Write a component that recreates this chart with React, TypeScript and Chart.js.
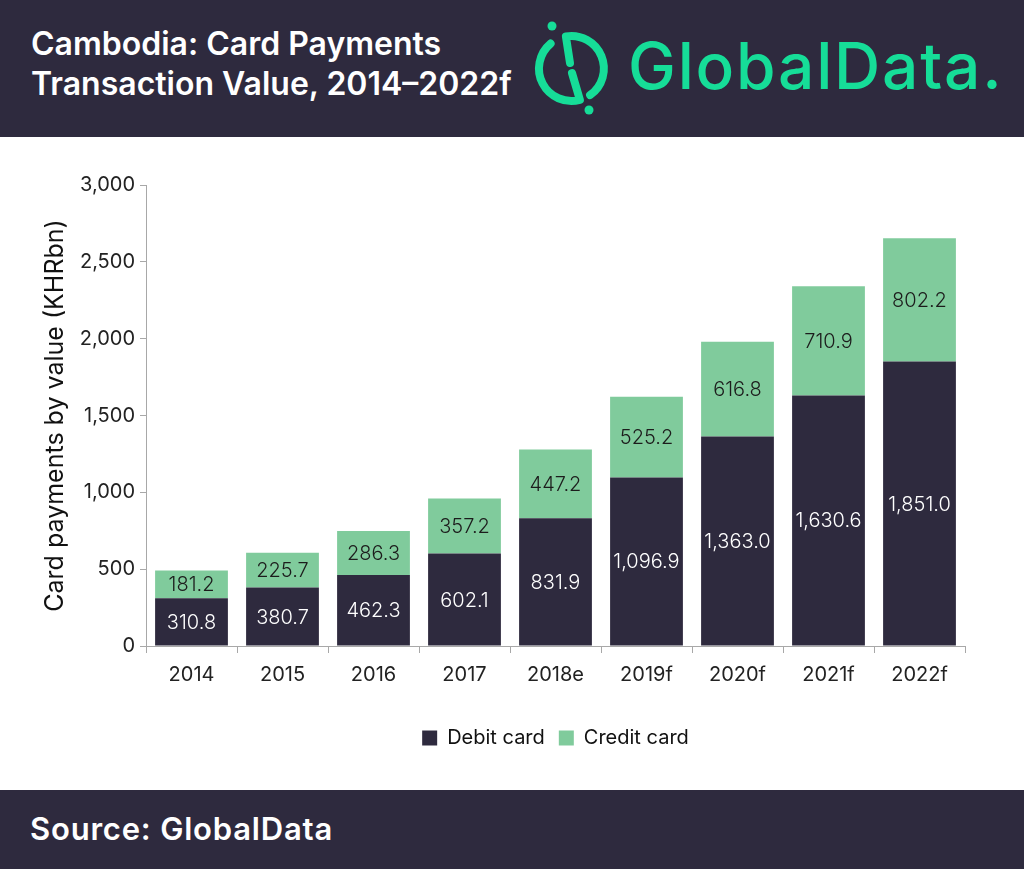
import { useEffect, useRef } from 'react'
import { Chart, registerables } from 'chart.js'

Chart.register(...registerables)

const years = ['2014', '2015', '2016', '2017', '2018e', '2019f', '2020f', '2021f', '2022f']
const debitCard = [310.8, 380.7, 462.3, 602.1, 831.9, 1096.9, 1363.0, 1630.6, 1851.0]
const creditCard = [181.2, 225.7, 286.3, 357.2, 447.2, 525.2, 616.8, 710.9, 802.2]

const DARK = '#2e2a3e'
const GREEN = '#80cb9c'
const LOGO = '#16dd98'
const AXIS = '#a8a8a8'
const FONT = 'Inter, "Noto Sans", sans-serif'

const fmt = (v: number) =>
  v.toLocaleString('en-US', { minimumFractionDigits: 1, maximumFractionDigits: 1 })

// value labels in the middle of each stacked segment
const barLabels = {
  id: 'barLabels',
  afterDatasetsDraw(chart: any) {
    const { ctx } = chart
    ctx.save()
    ctx.font = `300 20px ${FONT}`
    ctx.textAlign = 'center'
    ctx.textBaseline = 'middle'
    chart.data.datasets.forEach((ds: any, di: number) => {
      const meta = chart.getDatasetMeta(di)
      ctx.fillStyle = di === 0 ? '#ffffff' : '#1c1c1c'
      meta.data.forEach((bar: any, i: number) => {
        const { x, y, base } = bar.getProps(['x', 'y', 'base'], true)
        ctx.fillText(fmt(ds.data[i]), x, (y + base) / 2 + 1)
      })
    })
    ctx.restore()
  },
}

// keep the legend centred under the plot area rather than the canvas
const legendCentre = {
  id: 'legendCentre',
  afterLayout(chart: any) {
    const lg = chart.legend
    if (!lg) return
    const shift = (chart.chartArea.left + chart.chartArea.right) / 2 - (lg.left + lg.right) / 2
    lg.left += shift
    lg.right += shift
  },
}

function CardChart() {
  const canvasRef = useRef<HTMLCanvasElement>(null)

  useEffect(() => {
    const chart = new Chart(canvasRef.current as HTMLCanvasElement, {
      type: 'bar',
      data: {
        labels: years,
        datasets: [
          {
            label: 'Debit card',
            data: debitCard,
            backgroundColor: DARK,
            barPercentage: 0.8,
            categoryPercentage: 1,
          },
          {
            label: 'Credit card',
            data: creditCard,
            backgroundColor: GREEN,
            barPercentage: 0.8,
            categoryPercentage: 1,
          },
        ],
      },
      options: {
        animation: false,
        responsive: true,
        maintainAspectRatio: false,
        layout: { padding: { top: 48, left: 36, right: 59, bottom: 32 } },
        scales: {
          x: {
            stacked: true,
            border: { display: true, color: AXIS, width: 1 },
            grid: {
              drawOnChartArea: false,
              drawTicks: true,
              tickLength: 7,
              color: AXIS,
              tickColor: AXIS,
            },
            ticks: {
              color: '#222',
              padding: 10,
              font: { family: FONT, size: 20 },
            },
            afterFit: (scale: any) => {
              scale.height = 68
            },
          },
          y: {
            stacked: true,
            min: 0,
            max: 3000,
            border: { display: true, color: AXIS, width: 1 },
            grid: {
              drawOnChartArea: false,
              tickLength: 6,
              color: AXIS,
              tickColor: AXIS,
            },
            ticks: {
              stepSize: 500,
              color: '#222',
              padding: 5,
              font: { family: FONT, size: 20 },
              callback: (v: any) => Number(v).toLocaleString('en-US'),
            },
            title: {
              display: true,
              text: 'Card payments by value (KHRbn)',
              color: '#111',
              font: { family: FONT, size: 25 },
              padding: 4,
            },
            afterFit: (scale: any) => {
              scale.width = 146 - 36
            },
          },
        },
        plugins: {
          legend: {
            position: 'bottom',
            labels: {
              boxWidth: 15,
              boxHeight: 15,
              padding: 14,
              color: '#111',
              font: { family: FONT, size: 20 },
            },
          },
          tooltip: { enabled: false },
        },
      },
      plugins: [barLabels, legendCentre],
    } as any)

    return () => chart.destroy()
  }, [])

  return (
    <div style={{ position: 'absolute', left: 0, top: 137, width: 1024, height: 653 }}>
      <canvas ref={canvasRef} />
    </div>
  )
}

export default function App() {
  useEffect(() => {
    document.body.style.margin = '0'
  }, [])

  return (
    <div
      style={{
        position: 'absolute',
        left: 0,
        top: 0,
        width: 1024,
        height: 869,
        background: '#fff',
        fontFamily: FONT,
        overflow: 'hidden',
      }}
    >
      <div style={{ position: 'absolute', left: 0, top: 0, width: 1024, height: 137, background: DARK }}>
        <div
          style={{
            position: 'absolute',
            left: 31,
            top: 24,
            color: '#fff',
            fontSize: 32,
            fontWeight: 600,
            lineHeight: '40px',
            whiteSpace: 'nowrap',
          }}
        >
          Cambodia: Card Payments
          <br />
          Transaction Value, 2014–2022f
        </div>
        <svg width={1024} height={137} style={{ position: 'absolute', left: 0, top: 0 }}>
          <g fill="none" stroke={LOGO} strokeWidth={8} strokeLinecap="round" strokeLinejoin="round">
            <path d="M 550.6 43.6 A 32.5 32.5 0 0 0 579.9 99.9 L 572 73" />
            <path d="M 570 63 L 565.9 36.5 A 32.5 32.5 0 0 1 590.1 95.1" />
          </g>
          <circle cx={552} cy={26} r={4.5} fill={LOGO} />
          <circle cx={589} cy={110} r={4.5} fill={LOGO} />
        </svg>
        <div
          style={{
            position: 'absolute',
            left: 628,
            top: 34,
            color: LOGO,
            fontSize: 64,
            fontWeight: 500,
            lineHeight: 1,
            letterSpacing: 1.8,
            whiteSpace: 'nowrap',
          }}
        >
          GlobalData.
        </div>
      </div>
      <CardChart />
      <div style={{ position: 'absolute', left: 0, top: 790, width: 1024, height: 79, background: DARK }}>
        <div
          style={{
            position: 'absolute',
            left: 30,
            top: 20,
            color: '#fff',
            fontSize: 31,
            fontWeight: 600,
            lineHeight: 1.2,
            letterSpacing: 0.8,
            whiteSpace: 'nowrap',
          }}
        >
          Source: GlobalData
        </div>
      </div>
    </div>
  )
}
